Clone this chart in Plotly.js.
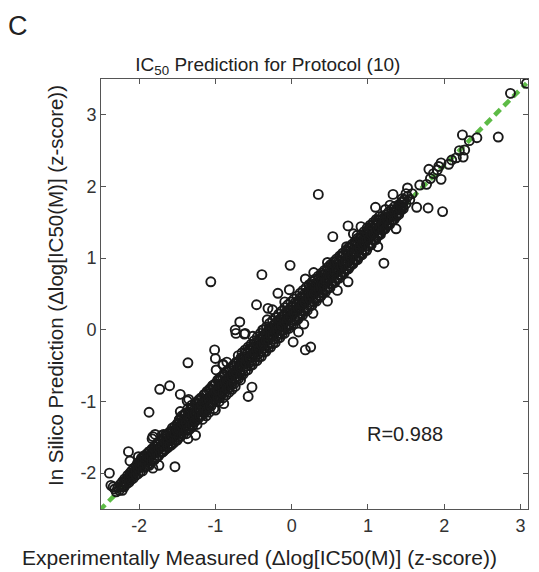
<!DOCTYPE html>
<html>
<head>
<meta charset="utf-8">
<script src="https://cdn.plot.ly/plotly-3.0.1.min.js"></script>
<style>html,body{margin:0;padding:0;background:#fff}#chart{width:539px;height:572px}</style>
</head>
<body>
<div id="chart"></div>
<script>
// [measured, predicted] pairs
const lowerBand = [[-2.32,-2.22],[-2.30,-2.26],[-2.28,-2.20],[-2.26,-2.24],[-2.25,-2.16],[-2.23,-2.19],[-2.22,-2.12],[-2.20,-2.17],[-2.19,-2.08],[-2.18,-2.13],[-2.16,-2.10],[-2.15,-2.03],[-2.14,-2.07],[-2.12,-2.00],[-2.11,-2.06],[-2.10,-1.97],[-2.08,-2.02],[-2.07,-1.93],[-2.06,-1.98],[-2.04,-1.90],[-2.03,-1.95],[-2.02,-1.86],[-2.00,-1.92],[-1.99,-1.83],
[-1.98,-1.88],[-1.97,-1.79],[-1.95,-1.85],[-1.94,-1.76],[-1.93,-1.90],[-1.91,-1.82],[-1.90,-1.73],[-1.88,-1.80],[-1.87,-1.70],[-1.86,-1.86],[-1.84,-1.76],[-1.83,-1.66],[-1.82,-1.72],[-1.80,-1.81],[-1.79,-1.63],[-1.78,-1.70],[-1.76,-1.58],[-1.75,-1.76],[-1.74,-1.66],[-1.72,-1.55],[-1.71,-1.62],[-1.70,-1.71],[-1.68,-1.52],[-1.67,-1.59],[-1.66,-1.67],[-1.64,-1.48],[-1.63,-1.56],[-1.62,-1.64],[-1.60,-1.45],[-1.59,-1.53],[-1.58,-1.61],[-1.56,-1.41],[-1.55,-1.50],[-1.54,-1.57],[-1.52,-1.38],[-1.51,-1.46],[-1.50,-1.54],
[-1.49,-1.30],[-1.48,-1.42],[-1.47,-1.25],[-1.46,-1.36],[-1.45,-1.48],[-1.44,-1.20],[-1.43,-1.32],[-1.42,-1.40],[-1.41,-1.27],[-1.40,-1.17],[-1.39,-1.35],[-1.38,-1.45],[-1.37,-1.22],[-1.36,-1.10],[-1.35,-1.30],[-1.34,-1.39],[-1.33,-1.16],[-1.32,-1.25],[-1.31,-1.05],[-1.30,-1.34],[-1.29,-1.20],[-1.28,-1.12],[-1.27,-1.28],[-1.26,-1.02],[-1.25,-1.17],[-1.24,-1.32],[-1.23,-1.08],[-1.22,-0.98],[-1.21,-1.22],[-1.20,-1.12],[-1.19,-0.95],[-1.18,-1.04],[-1.17,-1.25],[-1.16,-1.15],[-1.15,-0.91],[-1.14,-1.00],[-1.13,-1.10],[-1.12,-1.20],[-1.11,-0.86],[-1.10,-0.96],[-1.09,-1.06],[-1.08,-1.15],[-1.07,-0.82],[-1.06,-0.92],[-1.05,-1.02],[-1.04,-0.78],[-1.03,-0.88],[-1.02,-1.10],[-1.01,-0.97],[-1.00,-0.75]];

const middleBand = [[-0.99,-0.85],[-0.98,-0.93],[-0.97,-0.70],[-0.96,-0.80],[-0.95,-1.00],[-0.94,-0.89],[-0.93,-0.66],[-0.92,-0.76],[-0.91,-0.85],[-0.90,-0.95],[-0.89,-0.62],[-0.88,-0.72],[-0.87,-0.81],[-0.86,-0.91],[-0.85,-0.58],[-0.84,-0.68],[-0.83,-0.77],[-0.82,-0.87],[-0.81,-0.54],[-0.80,-0.64],[-0.79,-0.73],[-0.78,-0.83],[-0.77,-0.50],[-0.76,-0.60],[-0.75,-0.69],[-0.74,-0.79],[-0.73,-0.46],[-0.72,-0.55],[-0.71,-0.65],[-0.70,-0.36],[-0.69,-0.50],[-0.68,-0.60],[-0.67,-0.70],[-0.66,-0.42],[-0.65,-0.32],[-0.64,-0.55],[-0.63,-0.46],[-0.62,-0.38],[-0.61,-0.28],[-0.60,-0.51],[-0.59,-0.42],[-0.58,-0.33],[-0.57,-0.24],[-0.56,-0.46],[-0.55,-0.37],[-0.54,-0.29],[-0.53,-0.20],[-0.52,-0.42],[-0.51,-0.33],[-0.50,-0.24],
[-0.49,-0.15],[-0.48,-0.38],[-0.47,-0.28],[-0.46,-0.19],[-0.45,-0.10],[-0.44,-0.34],[-0.43,-0.24],[-0.42,-0.14],[-0.41,-0.05],[-0.40,-0.30],[-0.39,-0.20],[-0.38,-0.10],[-0.37,0.00],[-0.36,-0.26],[-0.35,-0.15],[-0.34,-0.06],[-0.33,0.04],[-0.32,-0.22],[-0.31,-0.11],[-0.30,-0.01],[-0.29,0.09],[-0.28,-0.18],[-0.27,-0.07],[-0.26,0.03],[-0.25,0.13],[-0.24,-0.13],[-0.23,-0.03],[-0.22,0.07],[-0.21,0.17],[-0.20,-0.09],[-0.19,0.02],[-0.18,0.12],[-0.17,0.22],[-0.16,-0.05],[-0.15,0.06],[-0.14,0.16],[-0.13,0.26],[-0.12,-0.01],[-0.11,0.10],[-0.10,0.20],[-0.09,0.31],[-0.08,0.03],[-0.07,0.14],[-0.06,0.24],[-0.05,0.35],[-0.04,0.07],[-0.03,0.18],[-0.02,0.28],[-0.01,0.39],[0.00,0.11],
[0.01,0.22],[0.02,0.32],[0.03,0.43],[0.04,0.15],[0.05,0.26],[0.06,0.36],[0.07,0.47],[0.08,0.19],[0.09,0.30],[0.10,0.40],[0.11,0.51],[0.12,0.23],[0.13,0.34],[0.14,0.44],[0.15,0.55],[0.16,0.27],[0.17,0.38],[0.18,0.48],[0.19,0.59],[0.20,0.31],[0.21,0.42],[0.22,0.52],[0.23,0.63],[0.24,0.35],[0.25,0.46],[0.26,0.56],[0.27,0.67],[0.28,0.40],[0.29,0.50],[0.30,0.60],[0.31,0.71],[0.32,0.44],[0.33,0.54],[0.34,0.64],[0.35,0.75],[0.36,0.48],[0.37,0.58],[0.38,0.68],[0.39,0.79],[0.40,0.52],[0.41,0.62],[0.42,0.72],[0.43,0.83],[0.44,0.56],[0.45,0.66],[0.46,0.76],[0.47,0.87],[0.48,0.60],[0.49,0.70],[0.50,0.80]];

const upperBand = [[0.51,0.91],[0.52,0.64],[0.53,0.74],[0.54,0.84],[0.55,0.95],[0.56,0.68],[0.57,0.78],[0.58,0.88],[0.59,0.99],[0.60,0.72],[0.61,0.82],[0.62,0.92],[0.63,1.03],[0.64,0.76],[0.65,0.86],[0.66,0.96],[0.67,1.07],[0.68,0.80],[0.69,0.90],[0.70,1.00],[0.71,1.11],[0.72,0.84],[0.73,0.94],[0.74,1.04],[0.75,1.15],[0.76,0.88],[0.77,0.98],[0.78,1.08],[0.79,1.19],[0.80,0.93],[0.81,1.03],[0.82,1.13],[0.83,1.23],[0.84,0.98],[0.85,1.08],[0.86,1.18],[0.87,1.28],[0.88,1.02],[0.89,1.12],[0.90,1.22],[0.91,1.32],[0.92,1.07],[0.93,1.17],[0.94,1.27],[0.95,1.37],[0.96,1.12],[0.97,1.22],[0.98,1.32],[0.99,1.42],[1.00,1.17],
[1.01,1.27],[1.02,1.37],[1.03,1.46],[1.04,1.21],[1.05,1.31],[1.06,1.41],[1.07,1.50],[1.08,1.26],[1.09,1.36],[1.10,1.45],[1.11,1.54],[1.12,1.30],[1.13,1.40],[1.14,1.49],[1.15,1.58],[1.16,1.35],[1.18,1.45],[1.19,1.54],[1.20,1.40],[1.22,1.50],[1.23,1.60],[1.24,1.44],[1.26,1.54],[1.27,1.64],[1.28,1.49],[1.30,1.58],[1.31,1.68],[1.32,1.53],[1.34,1.63],[1.35,1.72],[1.37,1.58],[1.38,1.68],[1.40,1.63],[1.41,1.75],[1.43,1.69],[1.44,1.78],[1.46,1.72],[1.48,1.82],[1.50,1.76],[1.52,1.86],[1.55,1.82],[1.58,1.90]];

// extra cross-sections of the dense core: [measured, predicted values seen at it]
const coreSlices = [[-2.195,-2.19,-2.12],[-2.165,-2.15,-2.09],[-2.135,-2.13,-2.06],[-2.105,-2.09,-2.02],[-2.075,-2.07,-1.99],[-2.045,-2.03,-1.95],[-2.015,-2.01,-1.93],
[-1.985,-1.98,-1.90,-1.85],[-1.955,-1.97,-1.87,-1.80],[-1.925,-1.92,-1.85,-1.78],[-1.895,-1.90,-1.80,-1.76],[-1.865,-1.89,-1.78,-1.70],[-1.835,-1.83,-1.76,-1.68],[-1.805,-1.82,-1.71,-1.66],[-1.775,-1.78,-1.70,-1.60],[-1.745,-1.76,-1.65,-1.59],[-1.715,-1.71,-1.64,-1.54],[-1.685,-1.70,-1.59,-1.52],[-1.655,-1.67,-1.57,-1.47],[-1.625,-1.62,-1.55,-1.45],[-1.595,-1.61,-1.49,-1.42],[-1.565,-1.59,-1.47,-1.37],[-1.535,-1.54,-1.45,-1.35],[-1.505,-1.53,-1.40,-1.32],
[-1.475,-1.50,-1.39,-1.26],[-1.445,-1.45,-1.34,-1.25],[-1.415,-1.45,-1.31,-1.19],[-1.385,-1.39,-1.29,-1.17],[-1.355,-1.38,-1.24,-1.15],[-1.325,-1.33,-1.23,-1.10],[-1.295,-1.32,-1.18,-1.09],[-1.265,-1.27,-1.16,-1.03],[-1.235,-1.25,-1.11,-1.02],[-1.205,-1.20,-1.10,-0.97],[-1.175,-1.19,-1.05,-0.96],[-1.145,-1.14,-1.03,-0.90],[-1.115,-1.13,-0.98,-0.89],[-1.085,-1.08,-0.97,-0.84],[-1.055,-1.06,-0.92,-0.83],[-1.025,-1.01,-0.91,-0.77],
[-0.995,-1.00,-0.85,-0.76],[-0.965,-0.95,-0.84,-0.71],[-0.935,-0.94,-0.79,-0.70],[-0.905,-0.88,-0.78,-0.65],[-0.875,-0.87,-0.73,-0.63],[-0.845,-0.82,-0.71,-0.58],[-0.815,-0.81,-0.66,-0.57],[-0.785,-0.76,-0.65,-0.52],[-0.755,-0.75,-0.60,-0.50],[-0.725,-0.69,-0.59,-0.45],[-0.695,-0.68,-0.53,-0.44],[-0.665,-0.63,-0.52,-0.39],[-0.635,-0.62,-0.47,-0.38],[-0.605,-0.57,-0.46,-0.32],[-0.575,-0.56,-0.41,-0.31],[-0.545,-0.50,-0.39,-0.26],[-0.515,-0.49,-0.34,-0.25],
[-0.485,-0.44,-0.33,-0.19],[-0.455,-0.43,-0.28,-0.18],[-0.425,-0.38,-0.27,-0.13],[-0.395,-0.37,-0.21,-0.12],[-0.365,-0.31,-0.20,-0.07],[-0.335,-0.30,-0.15,-0.05],[-0.305,-0.25,-0.14,0.00],[-0.275,-0.24,-0.08,0.01],[-0.245,-0.19,-0.07,0.06],[-0.215,-0.18,-0.02,0.08],[-0.185,-0.12,-0.01,0.13],[-0.155,-0.11,0.04,0.14],[-0.125,-0.06,0.06,0.19],[-0.095,-0.05,0.11,0.20],[-0.065,0.01,0.12,0.26],[-0.035,0.02,0.17,0.27],[-0.005,0.07,0.18,0.32],
[0.025,0.08,0.24,0.33],[0.055,0.13,0.25,0.39],[0.085,0.15,0.30,0.40],[0.115,0.20,0.31,0.45],[0.145,0.21,0.36,0.46],[0.175,0.26,0.38,0.51],[0.205,0.27,0.43,0.53],[0.235,0.33,0.44,0.58],[0.265,0.34,0.49,0.59],[0.295,0.39,0.51,0.64],[0.325,0.40,0.56,0.65],[0.355,0.45,0.57,0.71],[0.385,0.47,0.62,0.72],[0.415,0.52,0.63,0.77],[0.445,0.53,0.69,0.78],[0.475,0.58,0.70,0.83],
[0.505,0.59,0.75,0.85],[0.535,0.65,0.76,0.90],[0.565,0.66,0.81,0.91],[0.595,0.71,0.83,0.96],[0.625,0.72,0.88,0.97],[0.655,0.77,0.89,1.03],[0.685,0.79,0.94,1.04],[0.715,0.84,0.96,1.09],[0.745,0.85,1.01,1.10],[0.775,0.90,1.02,1.15],[0.805,0.92,1.07,1.17],[0.835,0.97,1.08,1.22],[0.865,0.98,1.14,1.23],[0.895,1.03,1.15,1.28],[0.925,1.05,1.20,1.29],[0.955,1.10,1.21,1.34],[0.985,1.11,1.26,1.36],
[1.015,1.17,1.28,1.41],[1.045,1.19,1.33,1.42],[1.075,1.25,1.34,1.47],[1.105,1.26,1.39,1.48],[1.135,1.32,1.41,1.53],[1.165,1.33,1.46,1.54],[1.195,1.39,1.47,1.59],[1.225,1.41,1.53],[1.255,1.46,1.54],[1.285,1.47,1.59],[1.315,1.53,1.61],[1.345,1.54,1.66],[1.375,1.60,1.67],[1.405,1.61,1.72],[1.435,1.67,1.73],[1.465,1.69,1.79]];

const outliers = [[0.35,1.89],[3.08,3.44],[2.87,3.30],[2.24,2.72],[2.33,2.64],[2.43,2.68],[2.71,2.69],[2.20,2.50],[2.27,2.51],[2.25,2.41],[2.16,2.40],[2.10,2.37],[2.06,2.31],[1.96,2.33],[1.93,2.28],[1.91,2.23],[1.80,2.24],[1.86,2.18],[1.82,2.11],[1.96,2.10],[1.77,2.03],[1.68,2.02],[1.52,1.98],[1.50,1.90],[1.45,1.83],[1.33,1.89],[1.64,1.71],[1.79,1.70],[1.98,1.65],[1.10,1.71],[1.23,1.68],[1.29,1.74],[0.74,1.45],[0.81,1.34],[0.91,1.44],[0.86,1.32],[0.54,1.30],[1.37,1.41],[-1.06,0.67],[-0.39,0.77],[-0.02,0.90],[-0.46,0.35],[-0.18,0.51],[-0.03,0.56],[0.18,0.71],[0.29,0.80],[0.47,0.94],[0.72,1.16],[1.13,1.16],[1.21,0.93],[0.60,0.55],[0.47,0.40],[0.74,0.67],[0.28,0.23],[0.16,0.08],[0.09,-0.03],[0.02,-0.17],[0.18,-0.28],[0.25,-0.24],[-0.68,0.11],[-0.74,0.00],[-0.73,-0.05],[-0.62,-0.06],[-0.51,-0.09],[-0.38,0.00],[-0.31,0.30],[-0.25,0.28],[-0.09,0.39],[-1.01,-0.28],[-1.00,-0.40],[-0.90,-0.48],[-1.36,-0.46],[-0.32,0.14],[-1.73,-0.83],[-1.60,-0.78],[-1.87,-1.15],[-1.46,-0.90],[-1.35,-0.97],[-1.37,-0.99],[-1.46,-1.14],[-0.57,-0.93],[-0.52,-0.80],[-0.99,-0.56],[-0.90,-0.49],[-1.82,-1.49],[-1.79,-1.46],[-1.68,-1.46],[-1.36,-1.52],[-1.26,-1.47],[-1.53,-1.91],[-1.74,-1.89],[-1.82,-1.93],[-2.14,-1.70],[-2.12,-1.83],[-2.01,-1.77],[-2.39,-2.00],[-2.37,-2.17],[-2.34,-2.19],[-2.22,-2.24],[-1.00,-1.12],[-0.89,-1.03],[-0.85,-0.45],[-1.83,-1.52],[-1.70,-1.47],[-0.61,-0.05]];

// dashed reference line end points
const refLineX = [-2.52, 3.08];
const refLineY = [-2.52, 3.44];

const tickVals = [-2, -1, 0, 1, 2, 3];
const tickLabels = ['-2', '-1', '0', '1', '2', '3'];

const titleText = 'IC<sub>50</sub> Prediction for Protocol (10)';
const xTitleText = 'Experimentally Measured (Δlog[IC50(M)] (z-score))';
const yTitleText = 'In Silico Prediction (Δlog[IC50(M)] (z-score))';
const rText = 'R=0.988';
const rPos = [1.49, -1.45];

const allPts = lowerBand.concat(middleBand, upperBand, outliers);
coreSlices.forEach(s => { for (let i = 1; i < s.length; i++) allPts.push([s[0], s[i]]); });
const measured = allPts.map(p => p[0]);
const predicted = allPts.map(p => p[1]);

const font = 'Liberation Sans, Arial, Helvetica, sans-serif';
const W = 539, H = 572, M = {l: 101, r: 11, t: 79, b: 63};
const pw = W - M.l - M.r, ph = H - M.t - M.b;
const px2x = px => (px - M.l) / pw;
const py2y = py => 1 - (py - M.t) / ph;

const traces = [
  {x: refLineX, y: refLineY, mode: 'lines', type: 'scatter',
   line: {color: '#5DBB46', width: 4.5, dash: '8px,5px'}, hoverinfo: 'skip', showlegend: false},
  {x: measured, y: predicted, mode: 'markers', type: 'scatter',
   marker: {symbol: 'circle-open', size: 9, color: '#1a1a1a', line: {width: 1.9, color: '#1a1a1a'}},
   showlegend: false}
];

const axisCommon = {
  showline: true, linecolor: '#555', linewidth: 1, mirror: 'ticks',
  ticks: 'inside', ticklen: 5, tickcolor: '#555', tickwidth: 1,
  showgrid: false, zeroline: false,
  tickmode: 'array', tickvals: tickVals, ticktext: tickLabels,
  tickfont: {family: font, size: 18, color: '#333'}
};

const layout = {
  width: W, height: H,
  margin: M,
  paper_bgcolor: '#fff', plot_bgcolor: '#fff',
  title: {text: titleText, font: {family: font, size: 19, color: '#222'},
          x: 0.497, xanchor: 'center', y: 0.888, yanchor: 'middle'},
  xaxis: Object.assign({}, axisCommon, {range: [-2.5, 3.1]}),
  yaxis: Object.assign({}, axisCommon, {range: [-2.5, 3.5]}),
  annotations: [
    {text: rText, x: rPos[0], y: rPos[1], xref: 'x', yref: 'y', showarrow: false,
     font: {family: font, size: 20, color: '#222'}},
    {text: xTitleText, xref: 'paper', yref: 'paper', x: px2x(259), y: py2y(557),
     xanchor: 'center', yanchor: 'middle', showarrow: false,
     font: {family: font, size: 21, color: '#222'}},
    {text: yTitleText, xref: 'paper', yref: 'paper', x: px2x(55), y: py2y(286),
     xanchor: 'center', yanchor: 'middle', textangle: -90, showarrow: false,
     font: {family: font, size: 20.5, color: '#222'}},
    {text: 'C', xref: 'paper', yref: 'paper', x: px2x(6), y: py2y(26),
     xanchor: 'left', yanchor: 'middle', showarrow: false,
     font: {family: font, size: 27, color: '#222'}}
  ]
};

Plotly.newPlot('chart', traces, layout, {displayModeBar: false, staticPlot: true});
</script>
</body>
</html>
